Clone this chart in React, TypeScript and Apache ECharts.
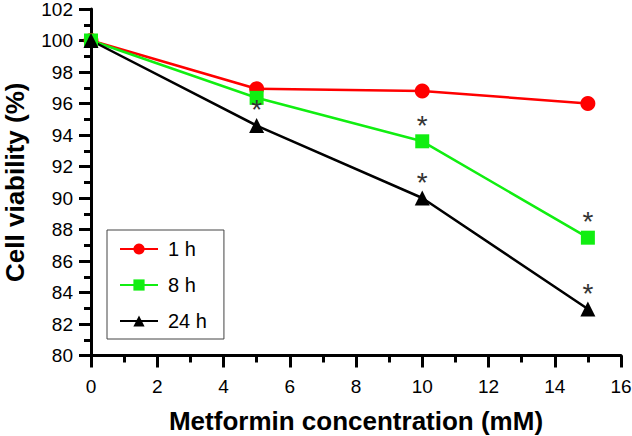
import React, { useEffect, useRef } from "react";
import * as echarts from "echarts";

const concentrations = [0, 5, 10, 15];
const seriesNames = ["1 h", "8 h", "24 h"];
const viability1h = [100, 96.93, 96.8, 96.0];
const viability8h = [100, 96.36, 93.6, 87.48];
const viability24h = [100, 94.6, 90.0, 82.95];
const sig1h = [false, false, false, false];
const sig8h = [false, false, true, true];
const sig24h = [false, true, true, true];
const xTicks = { min: 0, max: 16, interval: 2 };
const yTicks = { min: 80, max: 102, interval: 2 };

const FONT = "Liberation Sans";

function buildData(values: number[], sig: boolean[]) {
  return values.map((v, i) => ({
    value: [concentrations[i], v],
    label: {
      show: sig[i],
      formatter: "*",
      position: "inside",
      offset: [0, -16],
      fontSize: 28,
      color: "#333",
      fontFamily: FONT,
    },
  }));
}

const lineAxis = (pos: string, ticks: { min: number; max: number; interval: number }) => ({
  type: "value",
  position: pos,
  min: ticks.min,
  max: ticks.max,
  interval: ticks.interval,
  axisLine: { show: true, onZero: false, lineStyle: { color: "#000", width: 3 } },
  axisTick: { show: true, length: 12, lineStyle: { color: "#000", width: 3 } },
  minorTick: { show: true, splitNumber: 2, length: 7, lineStyle: { color: "#000", width: 3 } },
  axisLabel: { show: false },
  splitLine: { show: false },
});

export default function App() {
  const ref = useRef<HTMLDivElement>(null);
  useEffect(() => {
    document.body.style.margin = "0";
    const chart = echarts.init(ref.current!, undefined, { renderer: "svg" });
    chart.setOption({
      animation: false,
      backgroundColor: "#fff",
      grid: { left: 91, right: 11, top: 9, bottom: 80.5, outerBoundsMode: "none" },
      xAxis: [
        {
          type: "value",
          position: "bottom",
          min: xTicks.min,
          max: xTicks.max,
          interval: xTicks.interval,
          axisLine: { show: false },
          axisTick: { show: false },
          splitLine: { show: false },
          name: "Metformin concentration (mM)",
          nameLocation: "middle",
          nameGap: 52,
          nameTextStyle: { fontFamily: FONT, fontWeight: "bold", fontSize: 26, color: "#000" },
          axisLabel: { fontFamily: FONT, fontSize: 19, color: "#000", margin: 21 },
        },
        lineAxis("bottom", xTicks),
      ],
      yAxis: [
        {
          type: "value",
          position: "left",
          min: yTicks.min,
          max: yTicks.max,
          interval: yTicks.interval,
          axisLine: { show: false },
          axisTick: { show: false },
          splitLine: { show: false },
          name: "Cell viability (%)",
          nameLocation: "middle",
          nameGap: 63,
          nameTextStyle: { fontFamily: FONT, fontWeight: "bold", fontSize: 26, color: "#000" },
          axisLabel: { fontFamily: FONT, fontSize: 19, color: "#000", margin: 18 },
        },
        lineAxis("left", yTicks),
      ],
      legend: {
        orient: "vertical",
        left: 107,
        top: 230,
        data: seriesNames,
        borderColor: "#444",
        borderWidth: 1,
        borderRadius: 0,
        padding: [9, 17, 8, 12],
        itemWidth: 38,
        itemHeight: 14,
        itemGap: 16,
        textStyle: { fontFamily: FONT, fontSize: 20, color: "#000", padding: [0, 0, 0, 5] },
      },
      series: [
        {
          name: seriesNames[0],
          type: "line",
          xAxisIndex: 0,
          yAxisIndex: 0,
          data: buildData(viability1h, sig1h),
          symbol: "circle",
          symbolSize: 15,
          itemStyle: { color: "#ff0000" },
          lineStyle: { color: "#ff0000", width: 2.5 },
        },
        {
          name: seriesNames[1],
          type: "line",
          xAxisIndex: 0,
          yAxisIndex: 0,
          data: buildData(viability8h, sig8h),
          symbol: "rect",
          symbolSize: 14,
          itemStyle: { color: "#11ee11" },
          lineStyle: { color: "#11ee11", width: 2.5 },
        },
        {
          name: seriesNames[2],
          type: "line",
          xAxisIndex: 0,
          yAxisIndex: 0,
          data: buildData(viability24h, sig24h),
          symbol: "triangle",
          symbolSize: 15,
          itemStyle: { color: "#000" },
          lineStyle: { color: "#000", width: 2.5 },
        },
      ],
    });
    return () => chart.dispose();
  }, []);
  return <div ref={ref} style={{ width: 632, height: 436, position: "fixed", left: 0, top: 0 }} />;
}
